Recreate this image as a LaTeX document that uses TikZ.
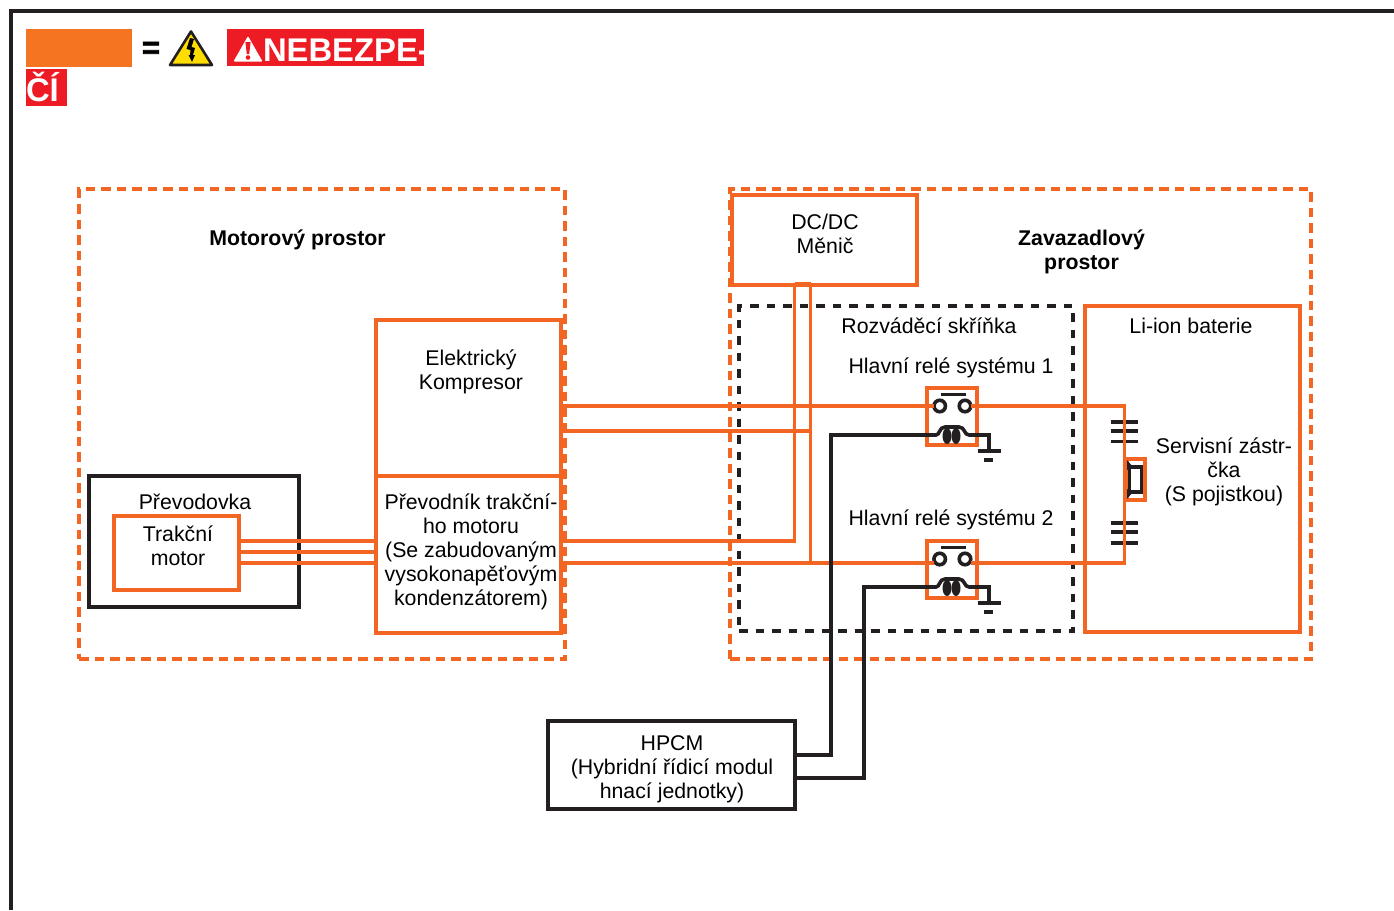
\documentclass[tikz,border=0pt]{standalone}
\usepackage{fontspec}
\setmainfont{Liberation Sans}
\newfontfamily\heavyfont[FakeBold=2.5]{Liberation Sans Bold}
\definecolor{colorWire}{HTML}{F26522}
\definecolor{colorLegend}{HTML}{F47421}
\definecolor{colorDanger}{HTML}{ED1C24}
\definecolor{colorLine}{HTML}{231F20}
\definecolor{colorSign}{HTML}{FFDD00}
\usetikzlibrary{positioning}
\tikzset{
  every node/.style={outer sep=0pt},
  unitbox/.style={draw, line width=3.8pt, anchor=north west, inner sep=0pt},
  wirebox/.style={unitbox, colorWire},
  blackbox/.style={unitbox, colorLine},
  zonebox/.style={draw=colorWire, line width=3.8pt, dash pattern=on 9.5pt off 6pt, anchor=north west, inner sep=0pt},
  cabinetbox/.style={draw=colorLine, line width=4pt, dash pattern=on 8.5pt off 8pt, anchor=north west, inner sep=0pt},
  boxtext/.style={align=center, font=\fontsize{21.3}{24}\selectfont, text=black, inner sep=0pt},
  boldtext/.style={boxtext, font=\fontsize{21.3}{24}\selectfont\bfseries},
  wire/.style={colorWire, line width=3.6pt},
  signal/.style={colorLine, line width=3.6pt},
  contact/.style={circle, draw=colorLine, line width=3.6pt, fill=white, minimum size=11.5pt, inner sep=0pt},
  dangertext/.style={text=white, font=\fontsize{32.8}{36}\selectfont\bfseries, inner sep=0pt, anchor=base west},
}
\newcommand{\boxat}[6]{\node[#1, minimum width=#5pt, minimum height=#6pt] (#2) at (#3,#4) {};}
\begin{document}
\begin{tikzpicture}[x=1pt, y=-1pt, line join=miter]
\useasboundingbox (0,0) rectangle (1394,910);
% frame
\coordinate (frameA) at (11,910);
\coordinate (frameB) at (11,11);
\coordinate (frameC) at (1394,11);
\draw[colorLine, line width=4pt] (frameA) -- (frameB) -- (frameC);
% legend
\node[fill=colorLegend, anchor=north west, minimum width=106pt, minimum height=38pt, inner sep=0pt] (legend) at (26,29) {};
\node[text=black, font=\fontsize{31}{36}\heavyfont, inner sep=0pt] (equals) at (151,50) {=};
\node[fill=colorDanger, anchor=north west, minimum width=197pt, minimum height=37pt, inner sep=0pt] (danger1) at (227,29) {};
\node[fill=colorDanger, anchor=north west, minimum width=41pt, minimum height=37pt, inner sep=0pt] (danger2) at (26,69) {};
\node[dangertext] (dangertext1) at (263,61) {NEBEZPE-};
\node[dangertext] (dangertext2) at (26,101) {ČÍ};
\draw[colorLine, fill=colorSign, line width=2.6pt, line join=round] (191,31.5) -- (212,65) -- (170,65) -- cycle;
\fill[black] (190,38) -- (194,39) -- (191.5,47) -- (195,48) -- (193,55) -- (195,55) -- (192,62) -- (188.5,55) -- (190,55) -- (190.5,50) -- (186.5,49) -- cycle;
\fill[white, rounded corners=1pt] (248,36) -- (262.5,61.5) -- (233.5,61.5) -- cycle;
\fill[colorDanger] (245.4,42) -- (250.6,42) -- (249.2,54) -- (246.8,54) -- cycle;
\fill[colorDanger] (248,57.5) circle (2.3pt);
% zones
\boxat{zonebox}{engineZone}{79}{189}{486}{470}
\boxat{zonebox}{trunkZone}{730}{189}{581}{470}
\boxat{cabinetbox}{cabinet}{739}{306}{334}{325}
% units
\boxat{wirebox}{converter}{732}{195}{185}{90}
\boxat{wirebox}{battery}{1085}{306}{215}{326}
\boxat{wirebox}{compressor}{376}{320}{185}{156}
\boxat{wirebox}{inverter}{376}{476}{185}{157}
\boxat{blackbox}{gearbox}{89}{476}{210}{131}
\boxat{wirebox}{motor}{114}{516}{125}{74}
\boxat{blackbox}{hpcm}{548}{721}{247}{88}
\boxat{wirebox}{relayA}{927}{388}{50}{57}
\boxat{wirebox}{relayB}{927}{541}{50}{57}
\boxat{wirebox}{plug}{1127}{459}{18}{41}
% relay contacts and coils
\foreach \rel/\ya/\yb in {A/406/435, B/559/587} {
  \node[contact] (contact\rel L) at (939.7,\ya) {};
  \node[contact] (contact\rel R) at (965,\ya) {};
  \coordinate (coil\rel L) at (927,\yb);
  \coordinate (coil\rel R) at (977,\yb);
  \coordinate (earth\rel) at (989,\yb+16);
}
% power wires
\coordinate (busTop) at (559,406);
\coordinate (busMid) at (561,431);
\coordinate (busLow) at (561,541);
\coordinate (busBot) at (559,563);
\coordinate (plugTop) at (1124.5,406);
\coordinate (plugBot) at (1124.5,563);
\coordinate (dcLeft) at (794.5,284);
\coordinate (dcRight) at (810.5,284);
\draw[wire] (busTop) -- (contactAL);
\draw[wire] (contactAR) -- (plugTop) -- (plugBot) -- (contactBR.east |- plugBot);
\draw[wire] (contactBL.west |- busBot) -- (busBot);
\draw[wire] (busMid) -- (dcRight |- busMid);
\draw[wire] (dcRight) -- (dcRight |- busBot);
\draw[wire, line width=3.8pt] (busLow) -- (dcLeft |- busLow) -- (dcLeft);
\draw[wire] (dcLeft) -- (dcRight);
\foreach \yy in {541,552,563} {
  \draw[wire] (motor.east |- 0,\yy) -- (inverter.west |- 0,\yy);
}
% signal wires
\coordinate (hpcmA) at (795,755);
\coordinate (hpcmB) at (795,778);
\draw[signal] (hpcmA) -- (831,755) -- (831,435) -- (coilAL);
\draw[signal] (hpcmB) -- (864,778) -- (864,587) -- (coilBL);
\foreach \rel/\ya/\yb in {A/406/435, B/559/587} {
  % bridge and coil symbol
  \draw[signal] (941,\ya-11.5) -- (966,\ya-11.5);
  \draw[signal] (coil\rel L) -- (936,\yb) .. controls (940,\yb) and (939,\yb-8) .. (945,\yb-8) .. controls (950,\yb-8) and (954,\yb-8) .. (959,\yb-8) .. controls (965,\yb-8) and (964,\yb) .. (969,\yb) -- (coil\rel R) -- (989,\yb) -- (earth\rel);
  \fill[colorLine] (947,\yb+1) ellipse (4.5pt and 8pt);
  \fill[colorLine] (956,\yb+1) ellipse (4.5pt and 8pt);
  \draw[signal] (978,\yb+16) -- (1001,\yb+16);
  \draw[signal] (984,\yb+25) -- (993,\yb+25);
}
% plug contacts
\foreach \yy in {422,431,441.5,523,532,543} {
  \draw[signal] (1111,\yy) -- (1138,\yy);
}
\draw[signal] (1129.5,467) -- (1141.5,467) -- (1141.5,492) -- (1129.5,492) -- cycle;
\fill[colorLine] (1127,460) -- (1133,467) -- (1127,470) -- cycle;
\fill[colorLine] (1127,499) -- (1133,492) -- (1127,489) -- cycle;
\draw[wire] (plugTop) -- (plugBot);
% labels
\node[boldtext] (engineLabel) at (297.5,240) {Motorový prostor};
\node[boldtext] (trunkLabel) at (1081.5,252) {Zavazadlový\\prostor};
\node[boxtext] (converterLabel) at (825,234) {DC/DC\\Měnič};
\node[boxtext] (cabinetLabel) at (929,326) {Rozváděcí skříňka};
\node[boxtext] (relayALabel) at (951,368) {Hlavní relé systému 1};
\node[boxtext] (relayBLabel) at (951,520) {Hlavní relé systému 2};
\node[boxtext] (batteryLabel) at (1191,326) {Li-ion baterie};
\node[boxtext] (plugLabel) at (1224,472) {Servisní zástr-\\čka\\(S pojistkou)};
\node[boxtext] (compressorLabel) at (471,372) {Elektrický\\Kompresor};
\node[boxtext] (inverterLabel) at (471,552) {Převodník trakční-\\ho motoru\\(Se zabudovaným\\vysokonapěťovým\\kondenzátorem)};
\node[boxtext] (gearboxLabel) at (195,502) {Převodovka};
\node[boxtext] (motorLabel) at (178,546) {Trakční\\motor};
\node[boxtext] (hpcmLabel) at (672,769) {HPCM\\(Hybridní řídicí modul\\hnací jednotky)};
\end{tikzpicture}
\end{document}
